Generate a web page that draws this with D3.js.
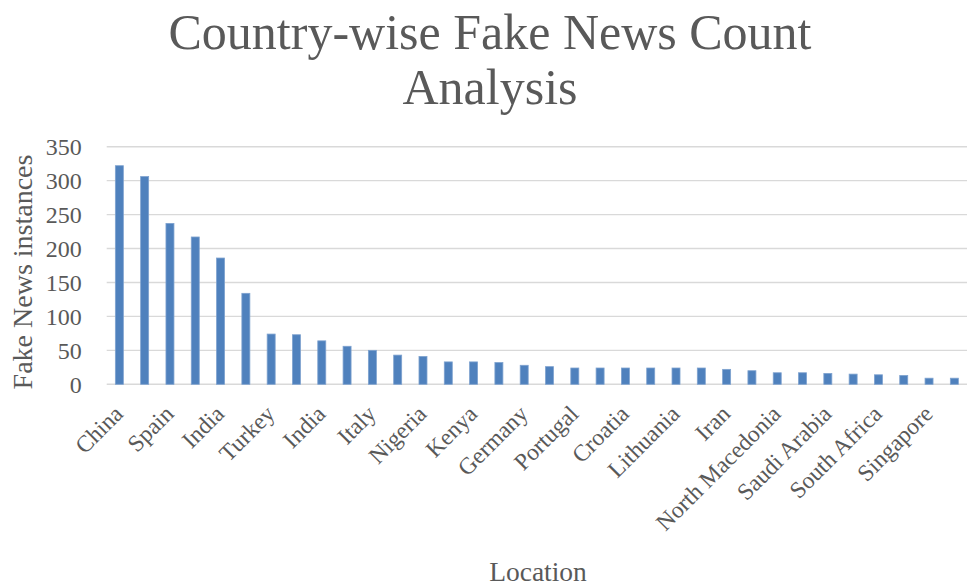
<!DOCTYPE html>
<html>
<head>
<meta charset="utf-8">
<script src="https://cdn.jsdelivr.net/npm/d3@7"></script>
<style>
  html, body { margin: 0; padding: 0; background: #ffffff; }
  svg { display: block; }
  text { font-family: "Liberation Serif", "DejaVu Serif", serif; fill: #595959; }
</style>
</head>
<body>
<svg id="chart" width="969" height="586"></svg>
<script>
// Fake news instances per location, sorted high to low
const locations = [
  "China", "United States", "Spain", "Brazil", "India", "Pakistan",
  "Turkey", "France", "India", "United Kingdom", "Italy", "Mexico",
  "Nigeria", "Russia", "Kenya", "Indonesia", "Germany", "Ukraine",
  "Portugal", "Argentina", "Croatia", "Greece", "Lithuania", "Serbia",
  "Iran", "Poland", "North Macedonia", "Philippines", "Saudi Arabia", "Bangladesh",
  "South Africa", "Egypt", "Singapore", "Japan"
];
const counts = [
  322, 306, 237, 217, 186, 134,
  74, 73, 64, 56, 50, 43,
  41, 33, 33, 32, 28, 26,
  24, 24, 24, 24, 24, 24,
  22, 20, 17, 17, 16, 15,
  14, 13, 9, 9
];
const yTicks = [0, 50, 100, 150, 200, 250, 300, 350];
const titleLines = ["Country-wise Fake News Count", "Analysis"];
const xTitle = "Location";
const yTitle = "Fake News instances";

const svg = d3.select("#chart");
const plot = { left: 106.7, right: 967, top: 146.7, bottom: 384.3 };

const idx = d3.range(counts.length);
const x = d3.scaleBand()
  .domain(idx)
  .range([plot.left, plot.right])
  .paddingInner(0.684)
  .paddingOuter(0.342);
const y = d3.scaleLinear()
  .domain([0, 350])
  .range([plot.bottom, plot.top]);

// Horizontal gridlines (including the baseline)
svg.append("g")
  .selectAll("line")
  .data(yTicks)
  .join("line")
  .attr("x1", plot.left)
  .attr("x2", plot.right)
  .attr("y1", d => y(d))
  .attr("y2", d => y(d))
  .attr("stroke", "#d9d9d9")
  .attr("stroke-width", 1.4);

// Y axis tick labels
const yAxis = d3.axisLeft(y).tickValues(yTicks).tickSize(0).tickPadding(0);
const gy = svg.append("g")
  .attr("transform", `translate(${plot.left - 25},0)`)
  .call(yAxis);
gy.select(".domain").remove();
gy.selectAll("text")
  .attr("font-family", "Liberation Serif")
  .attr("font-size", 24)
  .attr("fill", "#595959")
  .attr("dy", "0.34em");

// Bars
svg.append("g")
  .selectAll("rect")
  .data(idx)
  .join("rect")
  .attr("x", i => x(i))
  .attr("width", x.bandwidth())
  .attr("y", i => y(counts[i]))
  .attr("height", i => y(0) - y(counts[i]))
  .attr("fill", "#4f81bd")
  .attr("stroke", "#7ea2cf")
  .attr("stroke-width", 0.8);

// Category labels: every other location, rotated
const xAxis = d3.axisBottom(x)
  .tickValues(idx.filter(i => i % 2 === 0))
  .tickFormat(i => locations[i])
  .tickSize(0);
const gx = svg.append("g")
  .attr("transform", `translate(0,${plot.bottom})`)
  .call(xAxis);
gx.select(".domain").remove();
gx.selectAll("text")
  .attr("font-family", "Liberation Serif")
  .attr("font-size", 23.5)
  .attr("fill", "#595959")
  .attr("text-anchor", "end")
  .attr("y", 0)
  .attr("dy", 0)
  .attr("transform", "translate(5,31) rotate(-45)");

// Chart title
svg.append("text")
  .attr("x", 490)
  .attr("text-anchor", "middle")
  .attr("font-size", 50)
  .selectAll("tspan")
  .data(titleLines)
  .join("tspan")
  .attr("x", 490)
  .attr("y", (d, i) => 49 + i * 55)
  .text(d => d);

// Axis titles
svg.append("text")
  .attr("x", 538)
  .attr("y", 581)
  .attr("text-anchor", "middle")
  .attr("font-size", 27.5)
  .text(xTitle);

svg.append("text")
  .attr("transform", "translate(32,272) rotate(-90)")
  .attr("text-anchor", "middle")
  .attr("font-size", 28)
  .text(yTitle);
</script>
</body>
</html>
